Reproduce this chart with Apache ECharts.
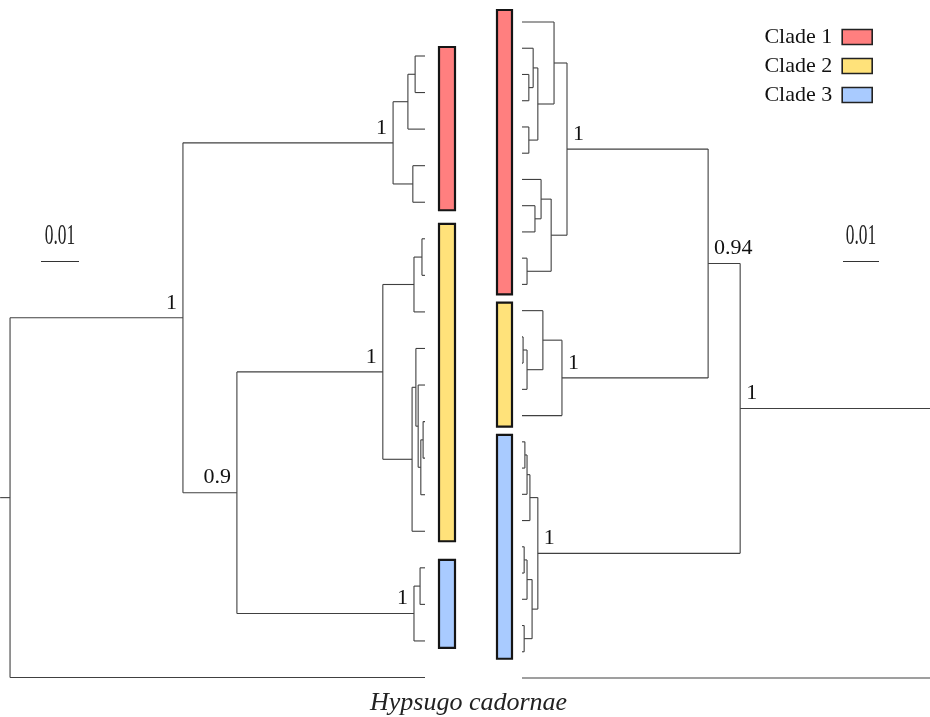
<!DOCTYPE html>
<html>
<head>
<meta charset="utf-8">
<script src="https://cdn.jsdelivr.net/npm/echarts@6/dist/echarts.min.js"></script>
<style>
  html, body { margin: 0; padding: 0; background: #fff; }
  #chart { width: 930px; height: 717px; }
</style>
</head>
<body>
<div id="chart"></div>
<script>
// Two mirrored ultrametric phylogenies.
// Internal node = [height above tips (subst./site), support or null, childA, childB]; tip = id string.
// Tip ids start with their clade number; 'out' is the outgroup.
const leftTree = [0.1092, null,
  [0.0637, 1,
    [0.0084, 1,
      [0.0045, null, [0.0026, null, '1a', '1b'], '1c'],
      [0.0032, null, '1d', '1e']],
    [0.0495, 0.9,
      [0.0111, 1,
        [0.0029, null, [0.0008, null, '2a', '2b'], '2c'],
        [0.0034, null,
          [0.0024, null, '2d',
            [0.0018, null, '2e',
              [0.0011, null, [0.0005, null, '2f', '2g'], '2h']]],
          '2i']],
      [0.0029, 1, [0.0013, null, '3a', '3b'], '3c']]],
  'out'];
const leftRootStem = 0.0026;

const rightTree = [0.1272, null,
  [0.0606, 1,
    [0.0517, 0.94,
      [0.0125, 1,
        [0.0089, null, '1a',
          [0.0044, null,
            [0.0031, null, '1b', [0.0019, null, '1c', '1d']],
            [0.0019, null, '1e', '1f']]],
        [0.0081, null,
          [0.0053, null, '1g', [0.0036, null, '1h', '1i']],
          [0.0014, null, '1j', '1k']]],
      [0.0111, 1,
        [0.0058, null, '2a', [0.0014, null, [0.0003, null, '2b', '2c'], '2d']],
        '2e']],
    [0.0044, 1,
      [0.0022, null, [0.0014, null, [0.0008, null, '3a', '3b'], '3c'], '3d'],
      [0.0028, null,
        [0.0014, null, [0.0006, null, '3e', '3f'], '3g'],
        [0.0006, null, '3h', '3i']]]],
  'out'];
const rightRootStem = 0;

const cladeNames = ['Clade 1', 'Clade 2', 'Clade 3'];
const cladeCodes = ['1', '2', '3'];
const scaleBarLength = 0.01;
const outgroupName = 'Hypsugo cadornae';

// ---- styling / layout ----
const FONT = '"Liberation Serif", "Times New Roman", serif';
const cladeFill = ['#FF7F7F', '#FFE27A', '#A9CBFF'];
const branchColor = '#404040';
const treeSide = [
  { // left tree: tips on the right edge of grid 0
    grid: { left: 0, top: 56, width: 425, height: 621.5 },
    xMax: 425 / 3800, inverse: true,
    barOffset: 14, barWidth: 16,
    barPad: [[9, 8], [15, 10], [8, 7]],
    labelDx: -6, labelAlign: 'right',
    scaleBar: { cx: 60, y: 261.5 }
  },
  { // right tree: tips on the left edge of grid 1
    grid: { left: 522, top: 22, width: 408, height: 656 },
    xMax: 408 / 3600, inverse: false,
    barOffset: -25, barWidth: 15,
    barPad: [[12, 10], [8, 11], [7, 7]],
    labelDx: 6, labelAlign: 'left',
    scaleBar: { cx: 861, y: 261.5 }
  }
];

// Turn a nested tree into drawable segments, support labels and tip order.
function layoutTree(tree, stem) {
  const segs = [], labels = [], tips = [];
  function walk(n) {
    if (typeof n === 'string') {
      const y = tips.length;
      tips.push(n);
      return { h: 0, y };
    }
    const [h, sup, a, b] = n;
    const ca = walk(a), cb = walk(b);
    segs.push([h, ca.y, h, cb.y]);
    segs.push([h, ca.y, ca.h, ca.y]);
    segs.push([h, cb.y, cb.h, cb.y]);
    const y = (ca.y + cb.y) / 2;
    if (sup != null) labels.push([h, y, String(sup)]);
    return { h, y };
  }
  const root = walk(tree);
  if (stem > 0) segs.push([root.h + stem, root.y, root.h, root.y]);
  const bars = cladeCodes.map(code => {
    const idx = tips.map((t, i) => t.startsWith(code) ? i : -1).filter(i => i >= 0);
    return [Math.min(...idx), Math.max(...idx)];
  });
  return { segs, labels, tips, bars };
}

const trees = [layoutTree(leftTree, leftRootStem), layoutTree(rightTree, rightRootStem)];

const grids = [], xAxes = [], yAxes = [], series = [];

trees.forEach((t, k) => {
  const side = treeSide[k];
  grids.push(side.grid);
  xAxes.push({ type: 'value', gridIndex: k, min: 0, max: side.xMax, inverse: side.inverse, show: false });
  yAxes.push({ type: 'value', gridIndex: k, min: 0, max: t.tips.length - 1, inverse: true, show: false });

  // branches
  series.push({
    type: 'custom', xAxisIndex: k, yAxisIndex: k, silent: true, clip: false,
    data: t.segs,
    renderItem(params, api) {
      const p1 = api.coord([api.value(0), api.value(1)]);
      const p2 = api.coord([api.value(2), api.value(3)]);
      return {
        type: 'line',
        shape: { x1: p1[0], y1: p1[1], x2: p2[0], y2: p2[1] },
        style: { stroke: branchColor, lineWidth: 1.1 }
      };
    }
  });

  // support values
  series.push({
    type: 'custom', xAxisIndex: k, yAxisIndex: k, silent: true, clip: false,
    data: t.labels,
    renderItem(params, api) {
      const p = api.coord([api.value(0), api.value(1)]);
      return {
        type: 'text', x: p[0] + side.labelDx, y: p[1] - 4,
        style: {
          text: String(t.labels[params.dataIndex][2]),
          fill: '#111', font: '22px ' + FONT,
          align: side.labelAlign, verticalAlign: 'bottom'
        }
      };
    }
  });

  // clade bars
  t.bars.forEach((b, c) => {
    series.push({
      type: 'custom', name: cladeNames[c], xAxisIndex: k, yAxisIndex: k, silent: true, clip: false,
      itemStyle: { color: cladeFill[c] },
      data: [[0, b[0], b[1]]],
      renderItem(params, api) {
        const top = api.coord([0, api.value(1)]);
        const bot = api.coord([0, api.value(2)]);
        const pad = side.barPad[c];
        return {
          type: 'rect',
          shape: {
            x: top[0] + side.barOffset, y: top[1] - pad[0],
            width: side.barWidth, height: bot[1] - top[1] + pad[0] + pad[1]
          },
          style: { fill: cladeFill[c], stroke: '#151515', lineWidth: 2.2 }
        };
      }
    });
  });

  // scale bar
  series.push({
    type: 'custom', xAxisIndex: k, yAxisIndex: k, silent: true, clip: false,
    data: [[scaleBarLength, 0]],
    renderItem(params, api) {
      const len = api.size([api.value(0), 0])[0];
      const sb = side.scaleBar;
      return {
        type: 'group',
        children: [
          { type: 'line', shape: { x1: sb.cx - len / 2, y1: sb.y, x2: sb.cx + len / 2, y2: sb.y },
            style: { stroke: '#333', lineWidth: 1.2 } },
          { type: 'text', x: sb.cx, y: sb.y - 11, scaleX: 0.6,
            style: { text: String(api.value(0)), fill: '#222', font: '29px ' + FONT,
                     align: 'center', verticalAlign: 'bottom' } }
        ]
      };
    }
  });
});

const chart = echarts.init(document.getElementById('chart'), null, { renderer: 'canvas' });
chart.setOption({
  animation: false,
  backgroundColor: '#fff',
  title: {
    text: outgroupName, left: 365, top: 685,
    textStyle: { fontFamily: FONT, fontStyle: 'italic', fontWeight: 'normal', fontSize: 26, color: '#222' }
  },
  legend: {
    orient: 'vertical', right: 52, top: 21, align: 'right',
    selectedMode: false, itemWidth: 30, itemHeight: 15, itemGap: 7,
    data: cladeNames.map(n => ({ name: n, icon: 'rect' })),
    itemStyle: { borderColor: '#222', borderWidth: 1.6 },
    textStyle: { fontFamily: FONT, fontSize: 22, color: '#111', lineHeight: 22, padding: [0, 5, 0, 0] }
  },
  grid: grids, xAxis: xAxes, yAxis: yAxes, series
});
</script>
</body>
</html>
